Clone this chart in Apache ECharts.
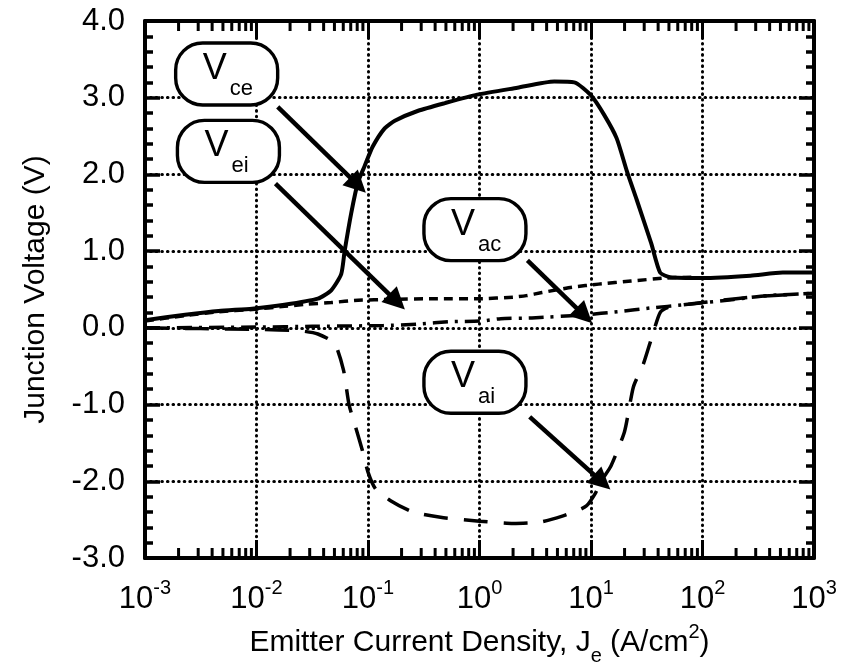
<!DOCTYPE html>
<html>
<head>
<meta charset="utf-8">
<script src="https://cdn.jsdelivr.net/npm/echarts@6/dist/echarts.min.js"></script>
<style>
  html, body { margin: 0; padding: 0; background: #fff; }
  #chart { width: 852px; height: 671px; }
</style>
</head>
<body>
<div id="chart"></div>
<script>
// Emitter current density J_e (A/cm^2) and junction voltages (V) per curve
const jCE = [1e-3, 2.29e-3, 4.57e-3, 9.12e-3, 1.78e-2, 3.55e-2, 4.68e-2, 5.75e-2, 6.17e-2, 7.08e-2,
             8.13e-2, 9.33e-2, 0.110, 0.141, 0.174, 0.282, 0.490, 0.955, 2.19, 4.68,
             7.08, 10, 13.2, 17.0, 20.9, 25.7, 34.7, 41.7, 51.3, 100, 269, 525, 1000];
const vCE = [0.10, 0.17, 0.22, 0.25, 0.30, 0.38, 0.49, 0.70, 1.00, 1.50,
             1.90, 2.11, 2.36, 2.60, 2.70, 2.83, 2.93, 3.04, 3.13, 3.21,
             3.20, 3.03, 2.77, 2.47, 2.05, 1.67, 1.10, 0.72, 0.66, 0.65, 0.68, 0.72, 0.72];

const jEI = [1e-3, 2.29e-3, 4.57e-3, 9.12e-3, 1.78e-2, 2.88e-2, 4.68e-2, 8.13e-2, 0.158, 0.389,
             1.0, 2.0, 2.63, 3.63, 6.76, 11.7, 22.9, 46.8, 79.4];
const vEI = [0.09, 0.16, 0.21, 0.24, 0.28, 0.31, 0.33, 0.36, 0.37, 0.38,
             0.38, 0.40, 0.42, 0.46, 0.53, 0.57, 0.61, 0.65, 0.66];

const jAC = [1e-3, 1e-2, 3.16e-2, 0.138, 0.282, 0.550, 1.07, 1.55, 2.95, 8.71,
             17.4, 34.7, 67.6, 191, 380, 1000];
const vAC = [0.00, 0.01, 0.02, 0.03, 0.05, 0.08, 0.09, 0.12, 0.13, 0.17,
             0.21, 0.26, 0.30, 0.37, 0.42, 0.45];

const jAI = [1e-3, 3.16e-3, 1e-2, 2.51e-2, 3.55e-2, 5.01e-2, 6.03e-2, 6.76e-2, 7.76e-2, 8.91e-2,
             0.1, 0.117, 0.158, 0.251, 0.447, 1, 2.0, 3.55, 5.62, 7.59,
             9.12, 11.0, 12.3, 15.1, 20.0, 24.0, 29.5, 35.5, 41.7, 50.1,
             100, 200, 398, 1000];
const vAI = [0.00, -0.01, -0.02, -0.04, -0.08, -0.20, -0.55, -1.00, -1.30, -1.60,
             -1.88, -2.10, -2.25, -2.40, -2.47, -2.52, -2.55, -2.53, -2.45, -2.38,
             -2.32, -2.15, -2.00, -1.80, -1.35, -0.77, -0.47, -0.10, 0.20, 0.27,
             0.33, 0.38, 0.42, 0.45];

// Labelled callouts: box centre, arrow start and arrow tip (data coordinates)
const noteSubs  = ['ce', 'ei', 'ac', 'ai'];
const noteBoxJ  = [5.4e-3, 5.6e-3, 0.91, 0.91];
const noteBoxV  = [3.31, 2.30, 1.28, -0.71];
const arrowFromJ = [1.55e-2, 1.48e-2, 2.69, 2.82];
const arrowFromV = [2.88, 1.88, 0.88, -1.16];
const arrowToJ   = [8.13e-2, 0.182, 8.71, 12.6];
const arrowToV   = [1.86, 0.34, 0.16, -2.01];

// Axis ranges
const jMin = 1e-3, jMax = 1e3;
const vMin = -3, vMax = 4;

// Minor tick positions of the log axis (2..9 within each decade)
const minorJ = [];
for (let e = -3; e < 3; e++) {
  for (let k = 2; k <= 9; k++) minorJ.push(+(k * Math.pow(10, e)).toPrecision(3));
}

const FONT = '"Liberation Sans", Arial, Helvetica, sans-serif';
const pair = (xs, ys) => xs.map((x, i) => [x, ys[i]]);

const gridLine = { show: true, lineStyle: { color: '#000', width: 3, type: [0.6, 5], cap: 'round' } };

const chart = echarts.init(document.getElementById('chart'), null, { renderer: 'canvas' });

const option = {
  backgroundColor: '#fff',
  animation: false,
  grid: { left: 145, right: 38, top: 21, bottom: 112 },
  xAxis: [
    {
      type: 'log', logBase: 10, min: jMin, max: jMax, splitNumber: 6,
      position: 'bottom',
      axisLine: { show: true, onZero: false, lineStyle: { color: '#000', width: 4 } },
      axisTick: { show: true, inside: true, length: 18, lineStyle: { color: '#000', width: 3 } },
      axisLabel: {
        margin: 20,
        formatter: v => '{b|10}{e|' + Math.round(Math.log10(v)) + '}',
        rich: {
          b: { fontFamily: FONT, fontSize: 31, color: '#000', padding: [6, 0, 0, 0] },
          e: { fontFamily: FONT, fontSize: 20, color: '#000', verticalAlign: 'top' }
        }
      },
      splitLine: gridLine,
      name: '{a|Emitter Current Density, J}{s|e}{a| (A/cm}{p|2}{a|)}',
      nameLocation: 'middle', nameGap: 64,
      nameTextStyle: {
        rich: {
          a: { fontFamily: FONT, fontSize: 30, color: '#000', padding: [6, 0, 8, 0] },
          s: { fontFamily: FONT, fontSize: 20, color: '#000', verticalAlign: 'bottom' },
          p: { fontFamily: FONT, fontSize: 20, color: '#000', verticalAlign: 'top' }
        }
      }
    },
    {
      type: 'log', logBase: 10, min: jMin, max: jMax, splitNumber: 6,
      position: 'top',
      axisLine: { show: true, onZero: false, lineStyle: { color: '#000', width: 4 } },
      axisTick: { show: true, inside: true, length: 18, lineStyle: { color: '#000', width: 3 } },
      axisLabel: { show: false },
      splitLine: { show: false }
    }
  ],
  yAxis: [
    {
      type: 'value', min: vMin, max: vMax, interval: 1, position: 'left',
      axisLine: { show: true, onZero: false, lineStyle: { color: '#000', width: 4 } },
      axisTick: { show: true, inside: true, length: 15, lineStyle: { color: '#000', width: 3.5 } },
      minorTick: { show: true, splitNumber: 5, length: 8, lineStyle: { color: '#000', width: 3.5 } },
      axisLabel: { margin: 20, fontFamily: FONT, fontSize: 31, color: '#000', formatter: v => v.toFixed(1) },
      splitLine: gridLine,
      name: 'Junction Voltage (V)', nameLocation: 'middle', nameGap: 94,
      nameTextStyle: { fontFamily: FONT, fontSize: 30, color: '#000' }
    },
    {
      type: 'value', min: vMin, max: vMax, interval: 1, position: 'right',
      axisLine: { show: true, onZero: false, lineStyle: { color: '#000', width: 4 } },
      axisTick: { show: true, inside: true, length: 15, lineStyle: { color: '#000', width: 3.5 } },
      minorTick: { show: true, splitNumber: 5, length: 8, lineStyle: { color: '#000', width: 3.5 } },
      axisLabel: { show: false },
      splitLine: { show: false }
    }
  ],
  series: [
    {
      name: 'Vce', type: 'line', data: pair(jCE, vCE), showSymbol: false, smooth: 0.2,
      lineStyle: { color: '#000', width: 4 }, z: 5
    },
    {
      name: 'Vei', type: 'line', data: pair(jEI, vEI), showSymbol: false, smooth: 0.2,
      lineStyle: { color: '#000', width: 3.5, type: [9, 6] }, z: 4
    },
    {
      name: 'Vac', type: 'line', data: pair(jAC, vAC), showSymbol: false, smooth: 0.2,
      lineStyle: { color: '#000', width: 3.5, type: [15, 7, 3, 7] }, z: 4
    },
    {
      name: 'Vai', type: 'line', data: pair(jAI, vAI), showSymbol: false, smooth: 0.2,
      lineStyle: { color: '#000', width: 3.5, type: [24, 16] }, z: 4
    },
    {
      // minor ticks of the log axis, bottom and top edges
      type: 'custom', silent: true, z: 3,
      data: minorJ.map(j => [j, 0]),
      encode: { x: 0, y: 1 },
      renderItem: (params, api) => {
        const b = api.coord([api.value(0), vMin]);
        const t = api.coord([api.value(0), vMax]);
        const st = { stroke: '#000', lineWidth: 3 };
        return {
          type: 'group',
          children: [
            { type: 'line', shape: { x1: b[0], y1: b[1], x2: b[0], y2: b[1] - 10 }, style: st },
            { type: 'line', shape: { x1: t[0], y1: t[1], x2: t[0], y2: t[1] + 10 }, style: st }
          ]
        };
      }
    },
    {
      // callout arrows
      type: 'lines', coordinateSystem: 'cartesian2d', silent: true, z: 8,
      symbol: ['none', 'triangle'], symbolSize: [13, 22],
      lineStyle: { color: '#000', width: 4.5, opacity: 1 },
      data: noteSubs.map((s, i) => ({
        coords: [[arrowFromJ[i], arrowFromV[i]], [arrowToJ[i], arrowToV[i]]]
      }))
    },
    {
      // callout boxes
      type: 'custom', silent: true, z: 9,
      data: noteSubs.map((s, i) => [noteBoxJ[i], noteBoxV[i]]),
      encode: { x: 0, y: 1 },
      renderItem: (params, api) => {
        const c = api.coord([api.value(0), api.value(1)]);
        const sub = noteSubs[params.dataIndex];
        return {
          type: 'group', x: c[0], y: c[1],
          children: [
            { type: 'rect', shape: { x: -51, y: -31, width: 102, height: 62, r: 27 },
              style: { fill: '#fff', stroke: '#000', lineWidth: 3.4 } },
            { type: 'text', x: -12, y: -5,
              style: { text: 'V', font: '36px ' + FONT, fill: '#000', align: 'center', verticalAlign: 'middle' } },
            { type: 'text', x: 3, y: 15,
              style: { text: sub, font: '22px ' + FONT, fill: '#000', align: 'left', verticalAlign: 'middle' } }
          ]
        };
      }
    }
  ]
};

chart.setOption(option);
</script>
</body>
</html>
